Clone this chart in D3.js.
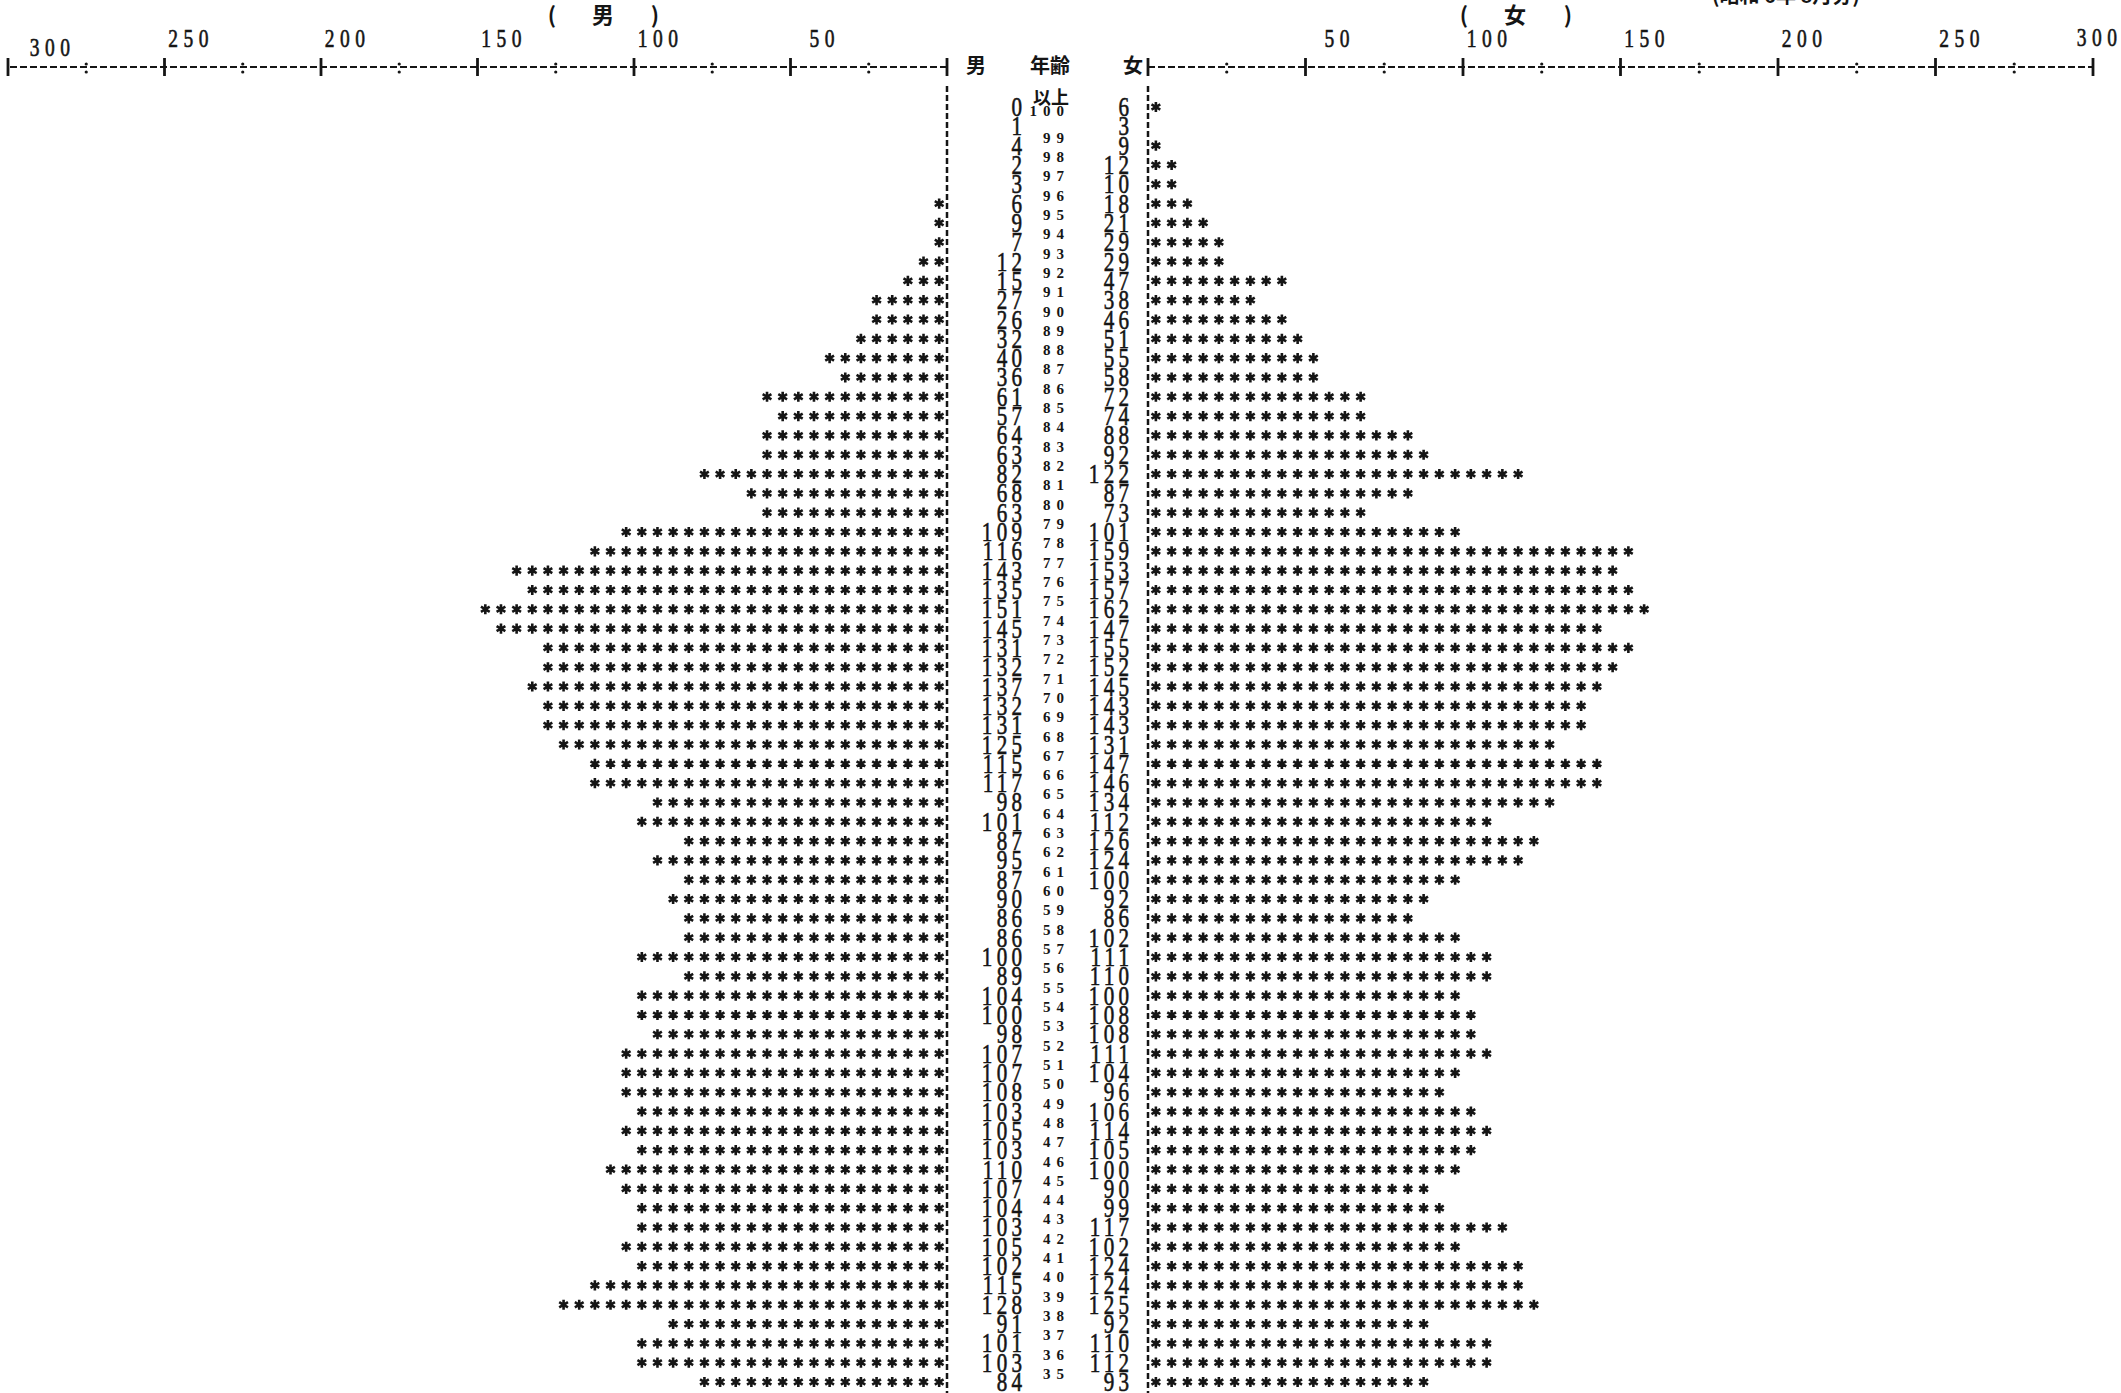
<!DOCTYPE html>
<html lang="ja">
  <head>
    <meta charset="utf-8">
    <title>年齢別人口</title>
    <script src="https://d3js.org/d3.v7.min.js"></script>
    <style>
      body { margin: 0; background: white; }
    </style>
  </head>
  <body>
  <script>

// rows top to bottom: 以上, 100 ... 35
var ages = ["以上", "100", "99", "98", "97", "96", "95", "94", "93", "92", "91",
  "90", "89", "88", "87", "86", "85", "84", "83", "82", "81",
  "80", "79", "78", "77", "76", "75", "74", "73", "72", "71",
  "70", "69", "68", "67", "66", "65", "64", "63", "62", "61",
  "60", "59", "58", "57", "56", "55", "54", "53", "52", "51",
  "50", "49", "48", "47", "46", "45", "44", "43", "42", "41",
  "40", "39", "38", "37", "36", "35"];

var male = [0, 1, 4, 2, 3, 6, 9, 7, 12, 15,
  27, 26, 32, 40, 36, 61, 57, 64, 63, 82,
  68, 63, 109, 116, 143, 135, 151, 145, 131, 132,
  137, 132, 131, 125, 115, 117, 98, 101, 87, 95,
  87, 90, 86, 86, 100, 89, 104, 100, 98, 107,
  107, 108, 103, 105, 103, 110, 107, 104, 103, 105,
  102, 115, 128, 91, 101, 103, 84];

var female = [6, 3, 9, 12, 10, 18, 21, 29, 29, 47,
  38, 46, 51, 55, 58, 72, 74, 88, 92, 122,
  87, 73, 101, 159, 153, 157, 162, 147, 155, 152,
  145, 143, 143, 131, 147, 146, 134, 112, 126, 124,
  100, 92, 86, 102, 111, 110, 100, 108, 108, 111,
  104, 96, 106, 114, 105, 100, 90, 99, 117, 102,
  124, 124, 125, 92, 110, 112, 93];

var majorTicks = [0, 50, 100, 150, 200, 250, 300];
var minorTicks = [25, 75, 125, 175, 225, 275];
var tickLabels = ["50", "100", "150", "200", "250", "300"];
var perMark = 5;   // one * = 5 persons

var w = 2121;
var h = 1393;
var ink = "#151515";
var serif = "'Liberation Serif', 'DejaVu Serif', serif";
var jp = "'Noto Sans CJK JP', sans-serif";

var xMale = d3.scaleLinear().domain([0, 300]).range([947, 8]);
var xFemale = d3.scaleLinear().domain([0, 300]).range([1148, 2093]);
var y = d3.scalePoint().domain(ages).range([107, 1382]);

var svg = d3.select("body")
  .append("svg")
    .attr("width", w)
    .attr("height", h);

svg.append("rect")
    .attr("width", w)
    .attr("height", h)
    .attr("fill", "white");

// tall narrow printer digits
function printed(parent, str, xr, yb, size, spacing, sx) {
  parent.append("g")
      .attr("transform", `translate(${xr},${yb}) scale(${sx},1)`)
    .append("text")
      .attr("x", spacing)
      .attr("text-anchor", "end")
      .attr("font-family", serif)
      .attr("font-size", size)
      .attr("letter-spacing", spacing)
      .attr("fill", ink)
      .attr("stroke", ink)
      .attr("stroke-width", 0.6)
      .text(str);
}

// axes along the top
var axisY = 67;
[xMale, xFemale].forEach(function (x, side) {
  var g = svg.append("g").attr("class", side ? "axisF" : "axisM");

  g.append("line")
      .attr("x1", x(0)).attr("x2", x(300))
      .attr("y1", axisY).attr("y2", axisY)
      .attr("stroke", ink)
      .attr("stroke-width", 1.8)
      .attr("stroke-dasharray", "7,3");

  g.selectAll(".major")
      .data(majorTicks)
      .enter().append("line")
      .attr("x1", d => x(d)).attr("x2", d => x(d))
      .attr("y1", axisY - 9).attr("y2", axisY + 9)
      .attr("stroke", ink)
      .attr("stroke-width", 2.8);

  g.selectAll(".minor")
      .data(minorTicks.concat(minorTicks))
      .enter().append("circle")
      .attr("cx", d => x(d))
      .attr("cy", (d, i) => i < minorTicks.length ? axisY - 3 : axisY + 5)
      .attr("r", 1.6)
      .attr("fill", ink);

  tickLabels.forEach(function (t) {
    var v = +t;
    var dx = 44, yb = 47;
    if (v == 300 && side == 0) { dx = 62; yb = 56; }
    if (v == 300 && side == 1) { dx = 24; yb = 46; }
    printed(g, t, x(v) + dx, yb, 25, 7, 0.78);
  });
});

// vertical dashed zero lines
svg.selectAll(".zero")
    .data([xMale(0), xFemale(0)])
    .enter().append("line")
    .attr("x1", d => d).attr("x2", d => d)
    .attr("y1", 86).attr("y2", h)
    .attr("stroke", ink)
    .attr("stroke-width", 2.5)
    .attr("stroke-dasharray", "6,3");

// headers
function jpText(str, x, yb, size, anchor) {
  svg.append("text")
      .attr("x", x).attr("y", yb)
      .attr("text-anchor", anchor || "middle")
      .attr("font-family", jp)
      .attr("font-size", size)
      .attr("font-weight", 700)
      .attr("fill", ink)
      .text(str);
}
jpText("(", 552, 23, 22);
jpText("男", 603, 23, 22);
jpText(")", 655, 23, 22);
jpText("(", 1464, 23, 22);
jpText("女", 1515, 23, 22);
jpText(")", 1568, 23, 22);
jpText("(昭和  6年  8月分)", 1712, 3, 20, "start");

jpText("男", 976, 73, 20);
jpText("年齢", 1050, 73, 20);
jpText("女", 1133, 73, 20);

// counts and age column
var cols = svg.append("g").attr("class", "numbers");
ages.forEach(function (a, i) {
  var ry = y(a);
  printed(cols, String(male[i]), 1022, ry + 9, 27, 5.5, 0.78);
  printed(cols, String(female[i]), 1129, ry + 9, 27, 5.5, 0.78);
  if (a == "以上") {
    jpText(a, 1051, ry - 3, 18);
  } else {
    cols.append("text")
        .attr("x", 1064 + 6)
        .attr("y", a == "100" ? ry - 10 : ry - 3)
        .attr("text-anchor", "end")
        .attr("font-family", serif)
        .attr("font-weight", "bold")
        .attr("font-size", 15)
        .attr("letter-spacing", 6)
        .attr("fill", ink)
        .text(a);
  }
});

// asterisk bars
var star = d3.symbol().type(d3.symbolAsterisk).size(72);

function drawMarks(values, x, cls) {
  var g = svg.append("g")
      .attr("class", cls)
      .attr("fill", "none")
      .attr("stroke", ink)
      .attr("stroke-width", 2.6);
  values.forEach(function (v, i) {
    var n = Math.floor(v / perMark);
    g.selectAll(null)
        .data(d3.range(n))
        .enter().append("path")
        .attr("d", star)
        .attr("transform", k => `translate(${x((k + 0.5) * perMark)},${y(ages[i])})`);
  });
}

drawMarks(male, xMale, "maleBars");
drawMarks(female, xFemale, "femaleBars");

    </script>
  </body>
</html>
